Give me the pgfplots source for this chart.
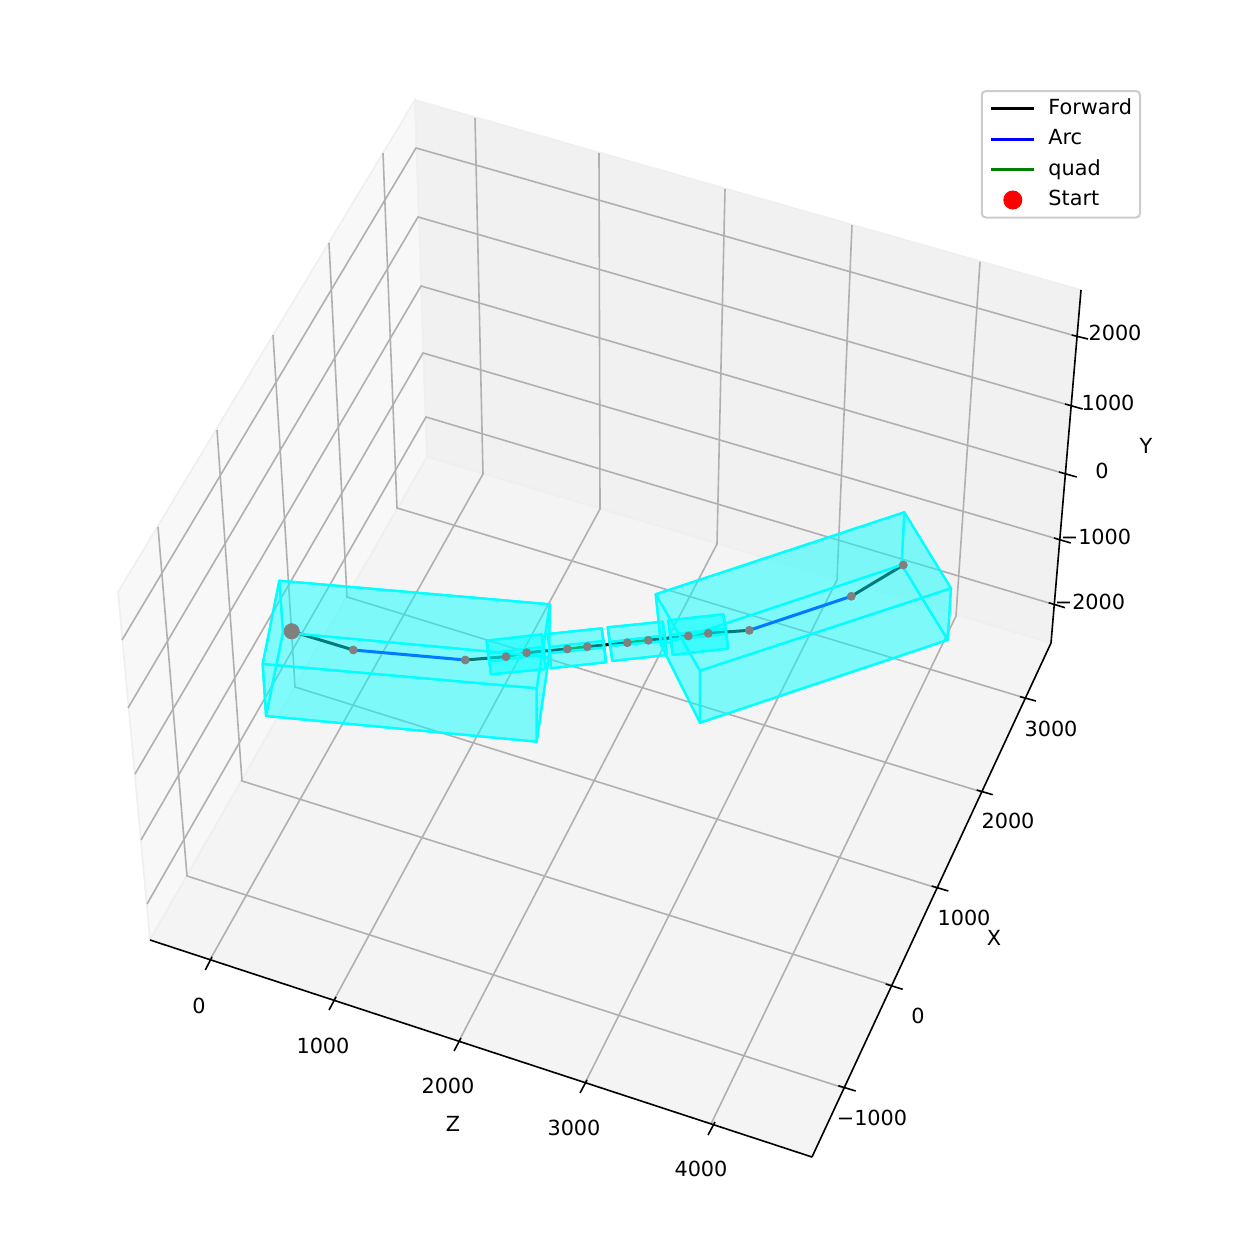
\documentclass[border=0pt]{standalone}
\usepackage{fontspec}
\setmainfont{DejaVu Sans}
\usepackage{pgfplots}
\pgfplotsset{compat=1.18}

% 3D chart with perspective: everything is given in projected picture
% coordinates (1 unit = 1 px of the 1259x1240 reference = 0.5pt)
\definecolor{paneback}{HTML}{F1F1F1}
\definecolor{paneleft}{HTML}{F8F8F8}
\definecolor{panefloor}{HTML}{F4F4F4}
\definecolor{paneedge}{HTML}{EFEFEF}
\definecolor{gridc}{HTML}{B0B0B0}
\definecolor{dotc}{HTML}{808080}
\definecolor{quadc}{HTML}{008000}
\definecolor{aqua}{RGB}{0,255,255}
\definecolor{startc}{RGB}{255,0,0}
\definecolor{arcc}{RGB}{0,0,255}

\newcommand{\lab}{\fontsize{10.4}{12}\selectfont}
\newcommand{\tlabel}[3]{\node[font=\lab,inner sep=0pt] at (axis cs:#1,#2) {#3};}
% corners: top face A B C D, lower corners E (under D) F (under C) G (under A) H (under B)
\newcommand{\cuboid}[8]{%
  \addplot[boxf] coordinates {#1 #2 #3 #4} -- cycle;
  \addplot[boxf] coordinates {#4 #3 #6 #5} -- cycle;
  \addplot[boxf] coordinates {#1 #4 #5 #7} -- cycle;
  \addplot[boxf] coordinates {#2 #3 #6 #8} -- cycle;
  \addplot[boxf] coordinates {#1 #2 #8 #7} -- cycle;
  \addplot[boxf] coordinates {#7 #8 #6 #5} -- cycle;
}

\begin{document}
\begin{tikzpicture}
\useasboundingbox (0,0) rectangle (629.5pt,620pt);
\begin{axis}[
    at={(0,0)}, anchor=south west,
    width=629.5pt, height=620pt, scale only axis,
    xmin=0, xmax=1259, ymin=0, ymax=1240,
    y dir=reverse,
    hide axis, clip=false,
    font=\lab,
    boxf/.style={draw=aqua, fill=aqua, fill opacity=0.28, draw opacity=1, line width=1.1pt, line join=round},
    gridl/.style={draw=gridc, line width=0.8pt, line join=miter},
    axl/.style={draw=black, line width=0.8pt},
    fw/.style={draw=black, line width=1.5pt},
    arc/.style={draw=arcc, line width=1.5pt},
    quad/.style={draw=quadc, line width=1.5pt},
    dot/.style={only marks, mark=*, mark size=2pt, mark options={draw=dotc, fill=dotc}},
    legend style={
        at={(0.9063,0.9274)}, anchor=north east,
        draw=black!20, line width=1pt, rounded corners=2pt, fill=white,
        font=\lab, inner xsep=4pt, inner ysep=3.5pt,
        row sep=4.75pt,
        nodes={inner sep=0pt, text height=8pt, text depth=2.5pt},
        /tikz/every odd column/.append style={column sep=6.3pt},
    },
    legend cell align=left,
    legend image code/.code={\draw[#1] (0pt,0pt) -- (21.5pt,0pt);},
]
% legend entries
\addlegendimage{fw}\addlegendentry{Forward}
\addlegendimage{arc}\addlegendentry{Arc}
\addlegendimage{quad}\addlegendentry{quad}
\addlegendimage{legend image code/.code={\fill[startc] (10.75pt,0pt) circle (4.25pt);}}\addlegendentry{Start}

% panes
\addplot[draw=paneedge, fill=paneleft, line width=0.8pt] coordinates {(150,940) (118,592) (415,100) (427,457)} -- cycle;
\addplot[draw=paneedge, fill=paneback, line width=0.8pt] coordinates {(415,100) (1081,290) (1051,643) (427,457)} -- cycle;
\addplot[draw=paneedge, fill=panefloor, line width=0.8pt] coordinates {(150,940) (812,1157) (1051,643) (427,457)} -- cycle;

% grid: Z
\addplot[gridl] coordinates {(211,958) (483,474) (475,118)};
\addplot[gridl] coordinates {(334,1000) (600,509) (599,153)};
\addplot[gridl] coordinates {(459,1041) (717,544) (725,189)};
\addplot[gridl] coordinates {(585,1083) (837,580) (852,225)};
\addplot[gridl] coordinates {(711,1124) (956,616) (980,262)};
% grid: X
\addplot[gridl] coordinates {(1025,698) (397,508) (383,153)};
\addplot[gridl] coordinates {(982,792) (347,597) (329,243)};
\addplot[gridl] coordinates {(937,888) (295,687) (273,335)};
\addplot[gridl] coordinates {(891,985) (242,781) (217,430)};
\addplot[gridl] coordinates {(844,1088) (187,876) (158,527)};
% grid: Y
\addplot[gridl] coordinates {(1072,335) (416,148) (122,640)};
\addplot[gridl] coordinates {(1065,404) (418,217) (128,708)};
\addplot[gridl] coordinates {(1059,472) (421,286) (135,774)};
\addplot[gridl] coordinates {(1054,538) (423,353) (141,840)};
\addplot[gridl] coordinates {(1049,603) (426,417) (147,904)};

% axis lines
\addplot[axl] coordinates {(150,940) (812,1157)};
\addplot[axl] coordinates {(812,1157) (1051,643)};
\addplot[axl] coordinates {(1051,643) (1081,290)};
% ticks
\addplot[axl] coordinates {(205.3,970) (212,957)};
\addplot[axl] coordinates {(329,1010) (336,997)};
\addplot[axl] coordinates {(454,1051) (461,1038)};
\addplot[axl] coordinates {(580,1093) (587,1080)};
\addplot[axl] coordinates {(708,1135) (715,1122)};
\addplot[axl] coordinates {(1036,701) (1020,696.7)};
\addplot[axl] coordinates {(992.7,794.7) (976.7,790)};
\addplot[axl] coordinates {(948.3,891) (931.7,886)};
\addplot[axl] coordinates {(902.7,989.3) (885.7,984)};
\addplot[axl] coordinates {(855.7,1091) (838.3,1085.7)};
\addplot[axl] coordinates {(1088,339) (1071.7,335)};
\addplot[axl] coordinates {(1082.7,409) (1065,404)};
\addplot[axl] coordinates {(1076.7,477) (1059,472)};
\addplot[axl] coordinates {(1070.7,543) (1054,538)};
\addplot[axl] coordinates {(1065,607.7) (1048.7,602.7)};

% trajectory
\addplot[fw] coordinates {(291.7,631.3) (353.3,650)};
\addplot[arc] coordinates {(353.3,650) (465.3,660)};
\addplot[fw] coordinates {(465.3,660) (506,656.7)};
\addplot[quad] coordinates {(506,656.7) (526.7,652.7)};
\addplot[fw] coordinates {(526.7,652.7) (567.3,649)};
\addplot[quad] coordinates {(567.3,649) (587.3,646.7)};
\addplot[fw] coordinates {(587.3,646.7) (627.3,642.7)};
\addplot[quad] coordinates {(627.3,642.7) (648.3,640.3)};
\addplot[fw] coordinates {(648.3,640.3) (688.3,636)};
\addplot[quad] coordinates {(688.3,636) (708.3,633.3)};
\addplot[fw] coordinates {(708.3,633.3) (749.3,630.3)};
\addplot[arc] coordinates {(749.3,630.3) (851.3,596.3)};
\addplot[fw] coordinates {(851.3,596.3) (903.3,565)};
% waypoints seen through the boxes
\addplot[dot] coordinates {(506,656.7) (526.7,652.7) (688.3,636) (708.3,633.3) (903.3,565)};

% boxes
\cuboid{(279.3,580.7)}{(550,604.3)}{(536.7,688.3)}{(262.7,664)}{(266,716)}{(536.7,741.7)}{(283,632.5)}{(549,657)}
\cuboid{(486.7,640.7)}{(541.7,634.3)}{(544.5,654.5)}{(489.5,661.5)}{(491,674.3)}{(545.7,669)}{(488,653.5)}{(543,647)}
\cuboid{(547.7,634)}{(601.7,628.3)}{(604.5,647.5)}{(550,653)}{(551,668.3)}{(606,662.3)}{(549.5,647)}{(603.3,641)}
\cuboid{(607.7,627.3)}{(662.7,621.7)}{(665.5,641)}{(610.5,646)}{(612.3,661)}{(666.7,655)}{(609.5,642)}{(664.5,635.5)}
\cuboid{(668.3,620.4)}{(723.3,614.3)}{(726.5,634)}{(671,639.5)}{(672.8,655)}{(728,648.6)}{(670,634.5)}{(725.5,628.5)}
\cuboid{(655.7,594.3)}{(904.3,512.3)}{(951,588.3)}{(700,670.7)}{(700,722.7)}{(947.7,640)}{(661,645)}{(901.7,565)}

% waypoints in front
\addplot[dot] coordinates {(353.3,650) (465.3,660) (567.3,649) (587.3,646.7) (627.3,642.7) (648.3,640.3) (749.3,630.3) (851.3,596.3)};
\addplot[dot, mark size=3.8pt] coordinates {(291.7,631.3)};

% tick labels
\tlabel{199}{1006}{0}
\tlabel{323}{1046}{1000}
\tlabel{448}{1086}{2000}
\tlabel{574}{1128}{3000}
\tlabel{701}{1169}{4000}
\tlabel{1051}{729}{3000}
\tlabel{1008}{821}{2000}
\tlabel{964}{918}{1000}
\tlabel{918}{1016}{0}
\tlabel{872}{1118}{−1000}
\tlabel{1115}{333}{2000}
\tlabel{1108}{403}{1000}
\tlabel{1102}{471}{0}
\tlabel{1096}{537}{−1000}
\tlabel{1090}{602}{−2000}
% axis names
\tlabel{453}{1124}{Z}
\tlabel{994}{938}{X}
\tlabel{1146}{446}{Y}
\end{axis}
\end{tikzpicture}
\end{document}
